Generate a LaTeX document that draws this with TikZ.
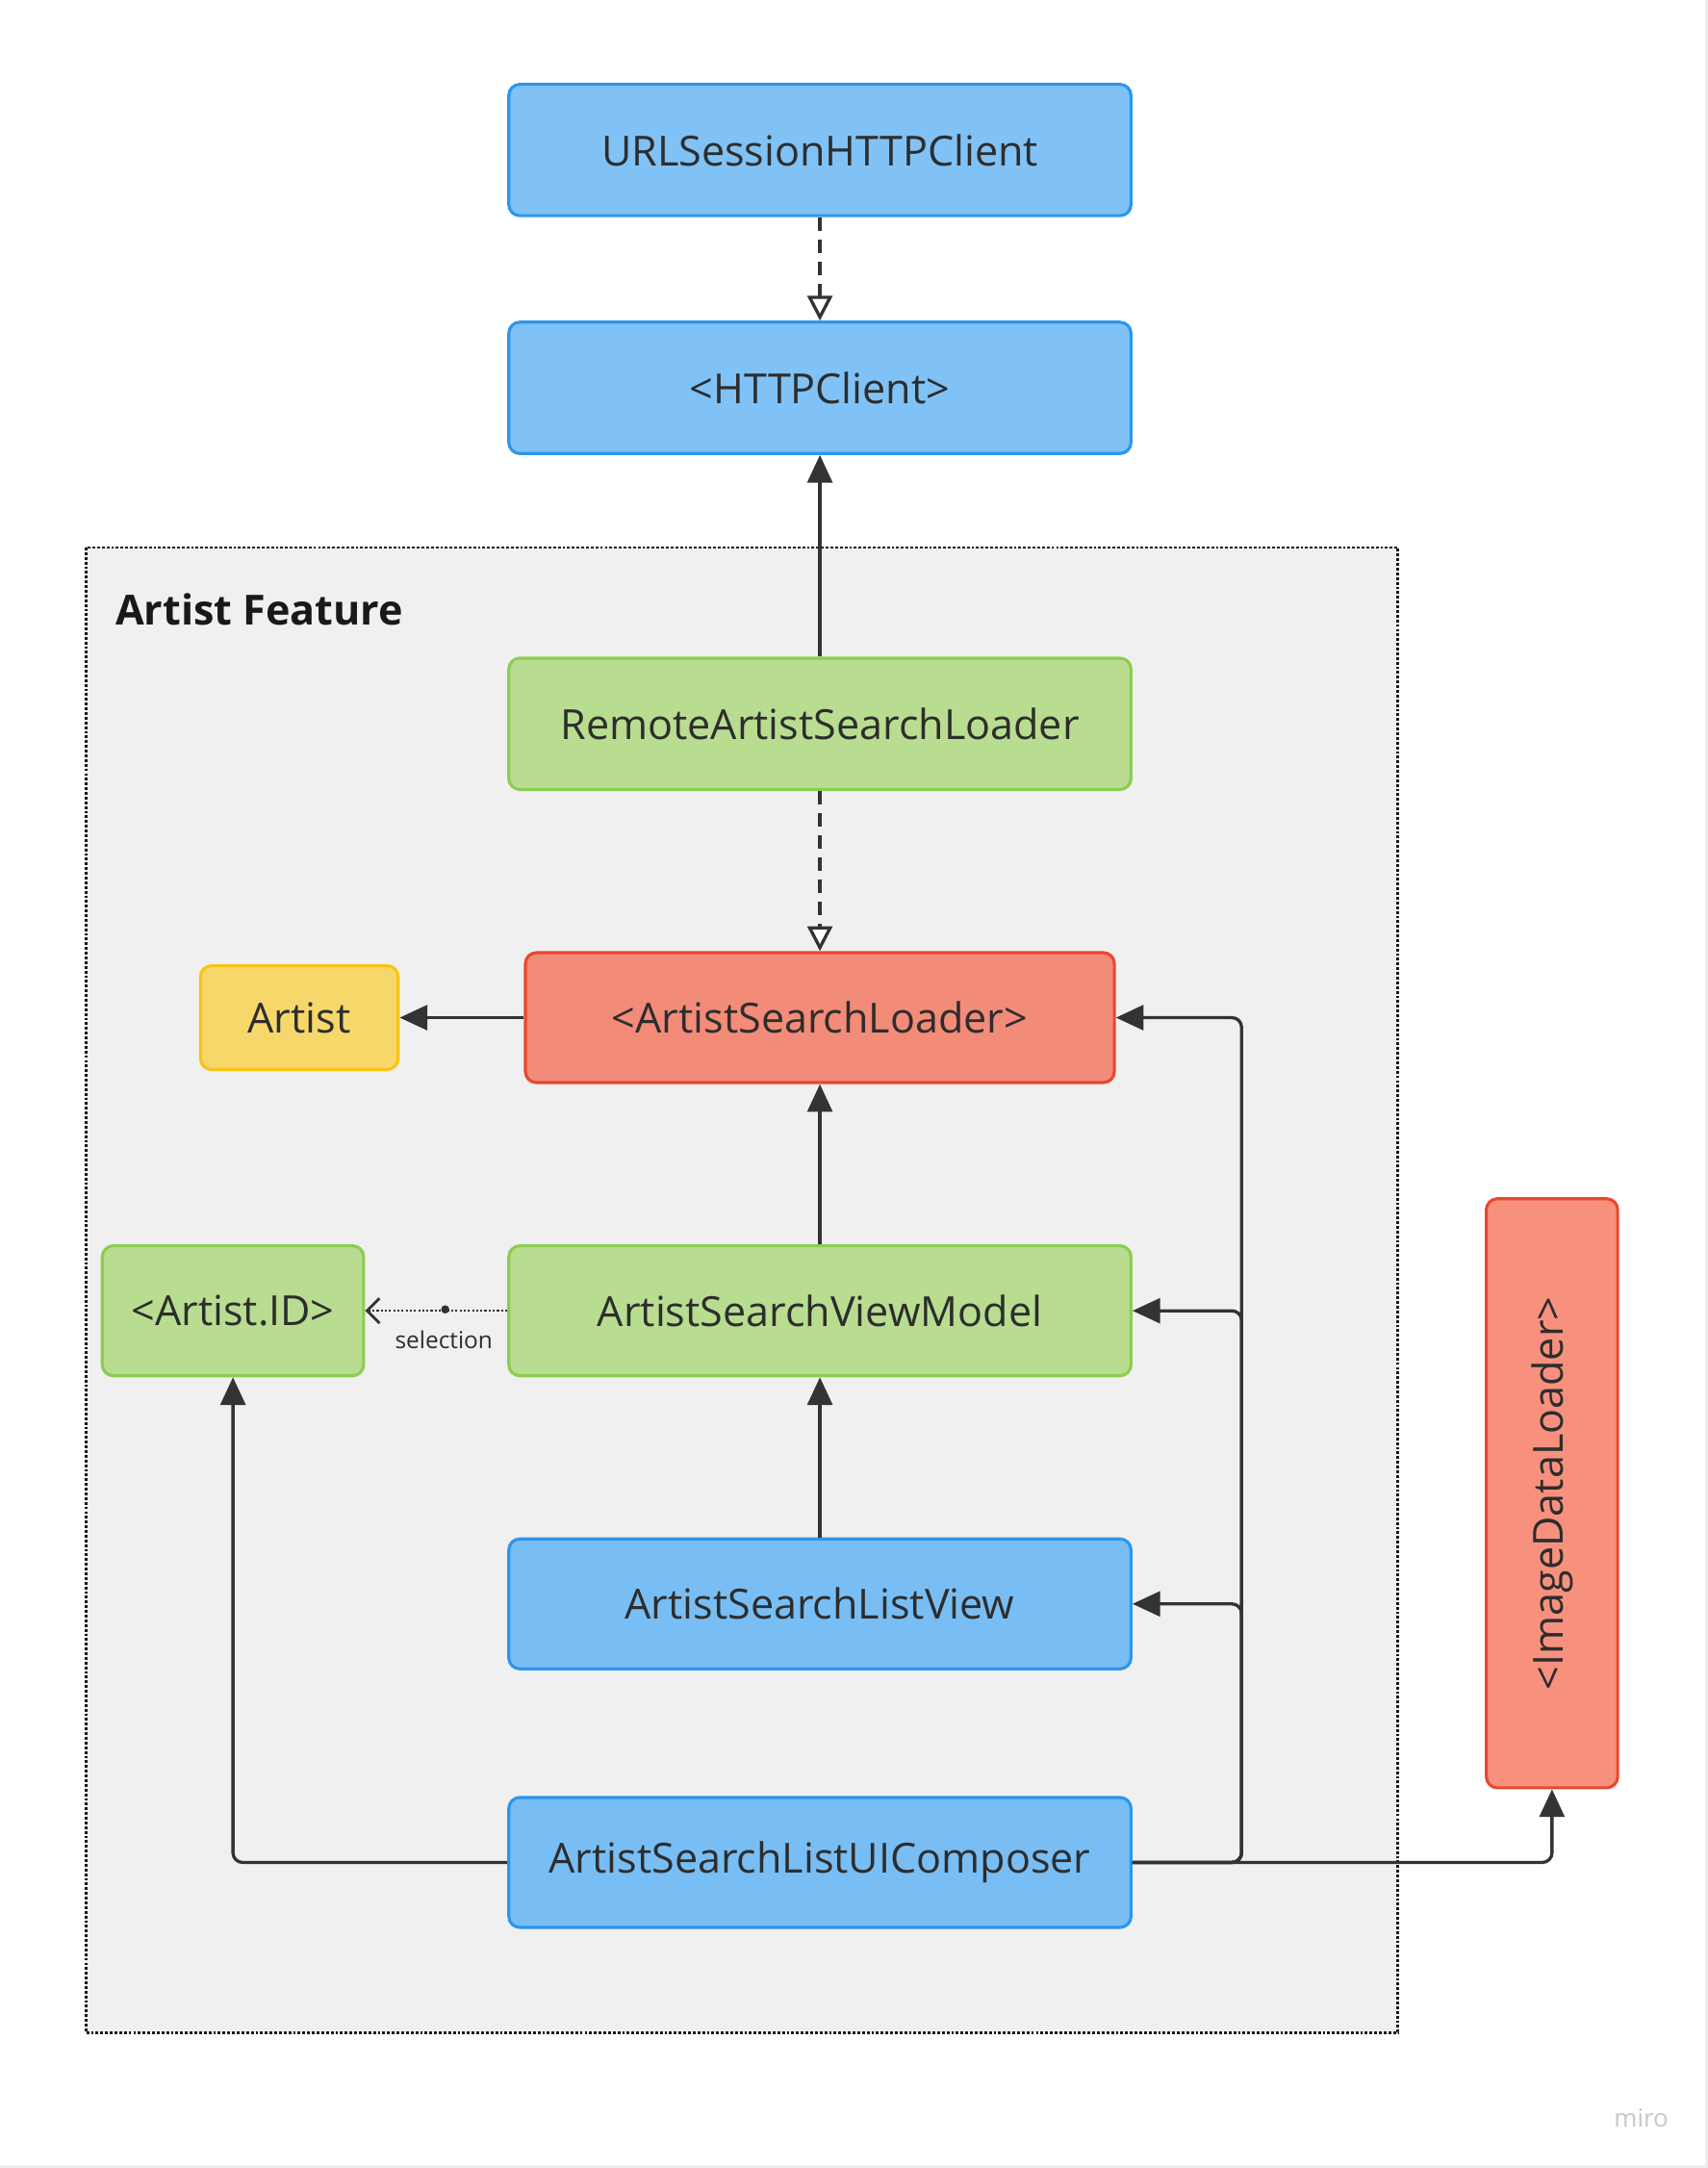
\documentclass[tikz,border=0pt]{standalone}
\usepackage{fontspec}
\setmainfont{Open Sans}
\usetikzlibrary{arrows.meta}
\definecolor{txt}{RGB}{45,45,45}
\definecolor{ln}{RGB}{51,51,51}
\definecolor{bluef}{RGB}{128,194,245}
\definecolor{blued}{RGB}{45,150,235}
\definecolor{greenf}{RGB}{184,221,144}
\definecolor{greend}{RGB}{140,205,80}
\definecolor{redf}{RGB}{242,139,120}
\definecolor{redd}{RGB}{232,72,48}
\definecolor{red2f}{RGB}{247,145,125}
\definecolor{yelf}{RGB}{246,216,106}
\definecolor{yeld}{RGB}{250,195,20}
\definecolor{contf}{RGB}{240,240,240}
\definecolor{frame}{RGB}{236,236,236}
\tikzset{
  box/.style={draw, line width=2.2pt, rounded corners=8pt, text=txt,
    font=\fontsize{30}{34}\selectfont, inner sep=0pt, align=center},
  bluebox/.style={box, fill=bluef, draw=blued, minimum width=450pt, minimum height=95pt},
  greenbox/.style={box, fill=greenf, draw=greend},
  redbox/.style={box, fill=redf, draw=redd},
  yelbox/.style={box, fill=yelf, draw=yeld},
  conn/.style={draw=ln, line width=2.3pt, rounded corners=7pt,
    -{Triangle[length=20pt,width=18pt]}},
  realize/.style={draw=ln, line width=2.3pt, dash pattern=on 10pt off 6pt,
    -{Triangle[open,length=18pt,width=18pt,fill=white,line width=2.3pt]}},
}
\begin{document}
\begin{tikzpicture}[x=1pt,y=-1pt]
\useasboundingbox (0,0) rectangle (1235,1568);
\fill[white] (0,0) rectangle (1235,1568);
\draw[frame, line width=2pt] (1234,0) -- (1234,1567) -- (0,1567);
% container
\draw[fill=contf, draw=black!90, line width=2pt, dash pattern=on 2pt off 1.4pt]
  (62,396) rectangle (1011,1470);
\node[anchor=west, font=\fontsize{30}{34}\selectfont\bfseries, text=black!90] (title) at (80,441) {Artist Feature};
% nodes
\node[bluebox] (url) at (593,108.5) {URLSessionHTTPClient};
\node[bluebox] (http) at (593,280.5) {<HTTPClient>};
\node[greenbox, minimum width=450pt, minimum height=95pt] (remote) at (593,523.5) {RemoteArtistSearchLoader};
\node[redbox, minimum width=426pt, minimum height=94pt] (asl) at (593,736) {<ArtistSearchLoader>};
\node[yelbox, minimum width=143pt, minimum height=75pt] (artist) at (216.5,736) {Artist};
\node[greenbox, minimum width=189pt, minimum height=94pt] (aid) at (168.5,948) {<Artist.ID>};
\node[greenbox, minimum width=450pt, minimum height=94pt] (vm) at (593,948) {ArtistSearchViewModel};
\node[bluebox, fill=bluef!90!blued, minimum height=94pt] (lv) at (593,1160) {ArtistSearchListView};
\node[bluebox, fill=bluef!90!blued, minimum height=94pt] (comp) at (593,1347) {ArtistSearchListUIComposer};
\node[box, fill=red2f, draw=redd, minimum width=95pt, minimum height=426pt] (idl) at (1122.5,1080) {};
\node[rotate=90, text=txt, font=\fontsize{30}{34}\selectfont] (idltext) at (idl.center) {<ImageDataLoader>};
% connectors
\draw[realize] (url.south) -- (http.north);
\draw[realize] (remote.south) -- (asl.north);
\draw[conn] (remote.north) -- (http.south);
\draw[conn] (asl.west) -- (artist.east);
\draw[conn] (vm.north) -- (asl.south);
\draw[conn] (lv.north) -- (vm.south);
\coordinate (trunk) at (898,1347);
\draw[conn] (comp.east) -- (trunk) |- (asl.east);
\draw[conn] (comp.east) -- (trunk) |- (vm.east);
\draw[conn] (comp.east) -- (trunk) |- (lv.east);
\draw[conn] (comp.east) -| (idl.south);
\draw[conn] (comp.west) -| (aid.south);
% selection
\coordinate (seldot) at (322,947);
\draw[draw=ln, line width=1.7pt, dash pattern=on 1.5pt off 1.5pt,
  -{Straight Barb[length=9pt,width=18pt,line width=2pt]}] (vm.west) -- (aid.east);
\fill[ln] (seldot) circle (3pt);
\node[text=txt, font=\fontsize{17}{19}\selectfont] (sel) at (321,969) {selection};
% watermark
\node[text=black!22, font=\fontsize{18}{20}\selectfont] (miro) at (1187,1532) {miro};
\end{tikzpicture}
\end{document}
